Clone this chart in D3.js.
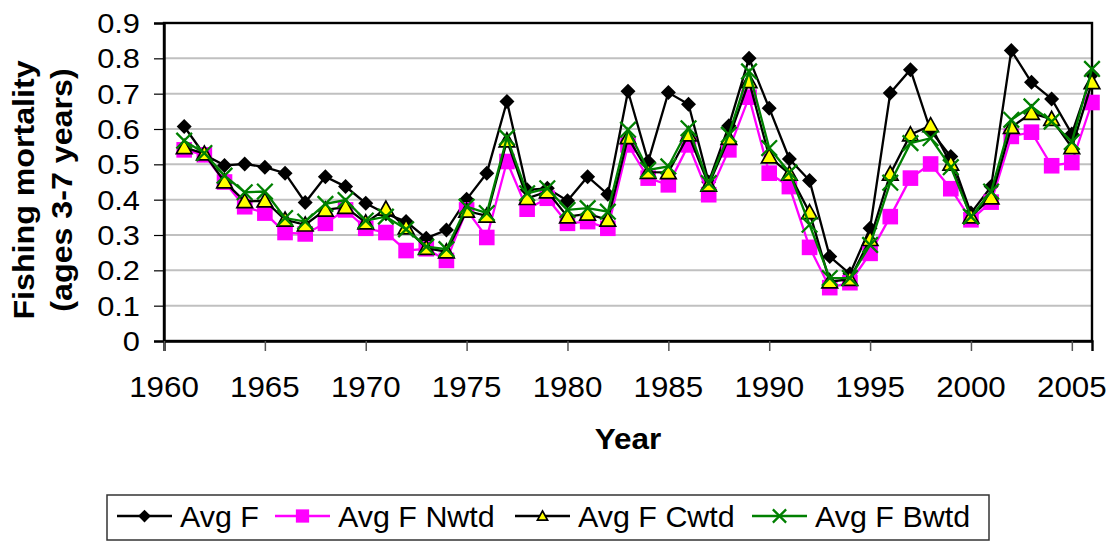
<!DOCTYPE html>
<html><head><meta charset="utf-8">
<script src="https://cdn.jsdelivr.net/npm/d3@7"></script>
<style>body{margin:0;background:#fff}svg{display:block}text{font-family:"Liberation Sans",Arial,sans-serif;fill:#000}</style>
</head><body>
<svg id="c" width="1113" height="541"></svg>
<script>
const years = d3.range(1961, 2007);
const avgF = [0.607,0.527,0.497,0.501,0.492,0.475,0.392,0.465,0.437,0.390,0.360,0.338,0.291,0.314,0.401,0.475,0.678,0.428,0.432,0.397,0.465,0.415,0.707,0.508,0.703,0.670,0.450,0.609,0.800,0.659,0.515,0.454,0.239,0.190,0.319,0.702,0.768,0.595,0.522,0.362,0.437,0.822,0.732,0.685,0.586,0.754];
const avgFN = [0.541,0.527,0.450,0.380,0.362,0.307,0.303,0.333,0.371,0.319,0.307,0.256,0.261,0.228,0.371,0.293,0.508,0.373,0.404,0.333,0.338,0.319,0.555,0.461,0.442,0.555,0.414,0.541,0.690,0.475,0.437,0.265,0.151,0.165,0.248,0.352,0.461,0.501,0.431,0.343,0.393,0.579,0.591,0.496,0.505,0.675];
const avgFC = [0.548,0.530,0.451,0.395,0.397,0.343,0.329,0.371,0.379,0.335,0.374,0.321,0.263,0.253,0.368,0.354,0.567,0.404,0.423,0.352,0.360,0.343,0.576,0.478,0.477,0.584,0.442,0.574,0.735,0.522,0.473,0.364,0.168,0.175,0.288,0.473,0.584,0.610,0.501,0.352,0.406,0.605,0.645,0.628,0.548,0.732];
const avgFB = [0.567,0.532,0.468,0.421,0.423,0.348,0.338,0.388,0.399,0.341,0.352,0.316,0.267,0.260,0.380,0.362,0.576,0.418,0.432,0.371,0.376,0.366,0.598,0.484,0.494,0.602,0.447,0.584,0.763,0.546,0.477,0.329,0.178,0.178,0.272,0.448,0.560,0.574,0.492,0.352,0.423,0.626,0.664,0.621,0.563,0.770];
const yTicks = [0,0.1,0.2,0.3,0.4,0.5,0.6,0.7,0.8,0.9];
const xTicks = [1960,1965,1970,1975,1980,1985,1990,1995,2000,2005];
const seriesNames = ["Avg F","Avg F Nwtd","Avg F Cwtd","Avg F Bwtd"];

const svg = d3.select("#c");
const L=164, R=1092, T=23, B=341;
const x = d3.scaleLinear().domain([1960,2006]).range([L,R]);
const y = d3.scaleLinear().domain([0,0.9]).range([B,T]);
const SX = 1.08;

function txt(g, s, px, py, opts={}) {
  const t = g.append("text").attr("transform", `translate(${px},${py})${opts.rot?` rotate(${opts.rot})`:""} scale(${opts.sx||SX},1)`)
    .attr("text-anchor", opts.anchor||"middle").style("font-size",(opts.size||27)+"px").text(s);
  if (opts.bold) t.style("font-weight","bold");
  return t;
}

// gridlines
svg.append("g").selectAll("line").data(yTicks.filter(d=>d>0&&d<0.9)).join("line")
  .attr("x1",L).attr("x2",R).attr("y1",d=>y(d)).attr("y2",d=>y(d))
  .attr("stroke","#c0c0c0").attr("stroke-width",2);

// plot frame
svg.append("rect").attr("x",L).attr("y",T).attr("width",R-L).attr("height",B-T)
  .attr("fill","none").attr("stroke","#000").attr("stroke-width",2.4);

// y axis
const ya = svg.append("g").attr("transform",`translate(${L},0)`)
  .call(d3.axisLeft(y).tickValues(yTicks).tickSize(10).tickFormat(""));
ya.select(".domain").attr("stroke","#000").attr("stroke-width",2.4);
ya.selectAll(".tick line").attr("stroke","#000").attr("stroke-width",1.2);
const ylab = svg.append("g");
yTicks.forEach(v=>txt(ylab, d3.format("")(v), 140, y(v)+10, {anchor:"end", size:28, sx:1.1}));

// x axis
const xa = svg.append("g").attr("transform",`translate(0,${B})`)
  .call(d3.axisBottom(x).tickValues(xTicks).tickSize(10).tickFormat(""));
xa.select(".domain").attr("stroke","#000").attr("stroke-width",2.4);
xa.selectAll(".tick line").attr("stroke","#555").attr("stroke-width",1.5);
const xlab = svg.append("g");
xTicks.forEach(v=>txt(xlab, String(v), x(v), 397, {size:29}));

// titles
txt(svg, "Year", (L+R)/2, 449, {bold:true, size:30, sx:1.05});
txt(svg, "Fishing mortality", 34, 190, {bold:true, size:29, rot:-90, sx:1.11});
txt(svg, "(ages 3-7 years)", 72, 190, {bold:true, size:29, rot:-90, sx:1.11});

// series
const line = d3.line().x((d,i)=>x(years[i])).y(d=>y(d));
function diamond(g, s, fill){ g.append("path").attr("d",`M0,${-s}L${s},0L0,${s}L${-s},0Z`).attr("fill",fill); }
function square(g, s){ g.append("rect").attr("x",-s).attr("y",-s).attr("width",2*s).attr("height",2*s).attr("fill","#ff00ff"); }
function tri(g, s){ g.append("path").attr("d",`M0,${-s}L${s},${s*0.8}L${-s},${s*0.8}Z`).attr("fill","#ffff00").attr("stroke","#000").attr("stroke-width",1.7).attr("stroke-linejoin","miter"); }
function cross(g, s){ g.append("path").attr("d",`M${-s},${-s}L${s},${s}M${-s},${s}L${s},${-s}`).attr("stroke","#008000").attr("stroke-width",2.3).attr("fill","none"); }

const S = [
  {vals:avgF, color:"#000", marker:(g,k)=>diamond(g,7.5*k,"#000")},
  {vals:avgFN, color:"#ff00ff", marker:(g,k)=>square(g,7.8*k)},
  {vals:avgFC, color:"#000", marker:(g,k)=>tri(g,7.8*k)},
  {vals:avgFB, color:"#008000", marker:(g,k)=>cross(g,7.8*k)}
];
S.forEach(s=>{
  const g = svg.append("g");
  g.append("path").datum(s.vals).attr("d",line).attr("fill","none").attr("stroke",s.color).attr("stroke-width",2.3);
  s.vals.forEach((v,i)=>{ const m=g.append("g").attr("transform",`translate(${x(years[i])},${y(v)})`); s.marker(m,1); });
});

// legend
const lg = svg.append("g");
lg.append("rect").attr("x",107).attr("y",495).attr("width",882).attr("height",45).attr("fill","#fff").attr("stroke","#333").attr("stroke-width",1.5);
const lx = [117, 275, 515, 752];
S.forEach((s,i)=>{
  const g = lg.append("g");
  g.append("line").attr("x1",lx[i]).attr("x2",lx[i]+55).attr("y1",516).attr("y2",516).attr("stroke",s.color).attr("stroke-width",2.3);
  const m = g.append("g").attr("transform",`translate(${lx[i]+27.5},516)`);
  s.marker(m, i===2?0.65:0.85);
  txt(g, seriesNames[i], lx[i]+63, 527, {anchor:"start", size:29, sx:1.05});
});
</script>
</body></html>
